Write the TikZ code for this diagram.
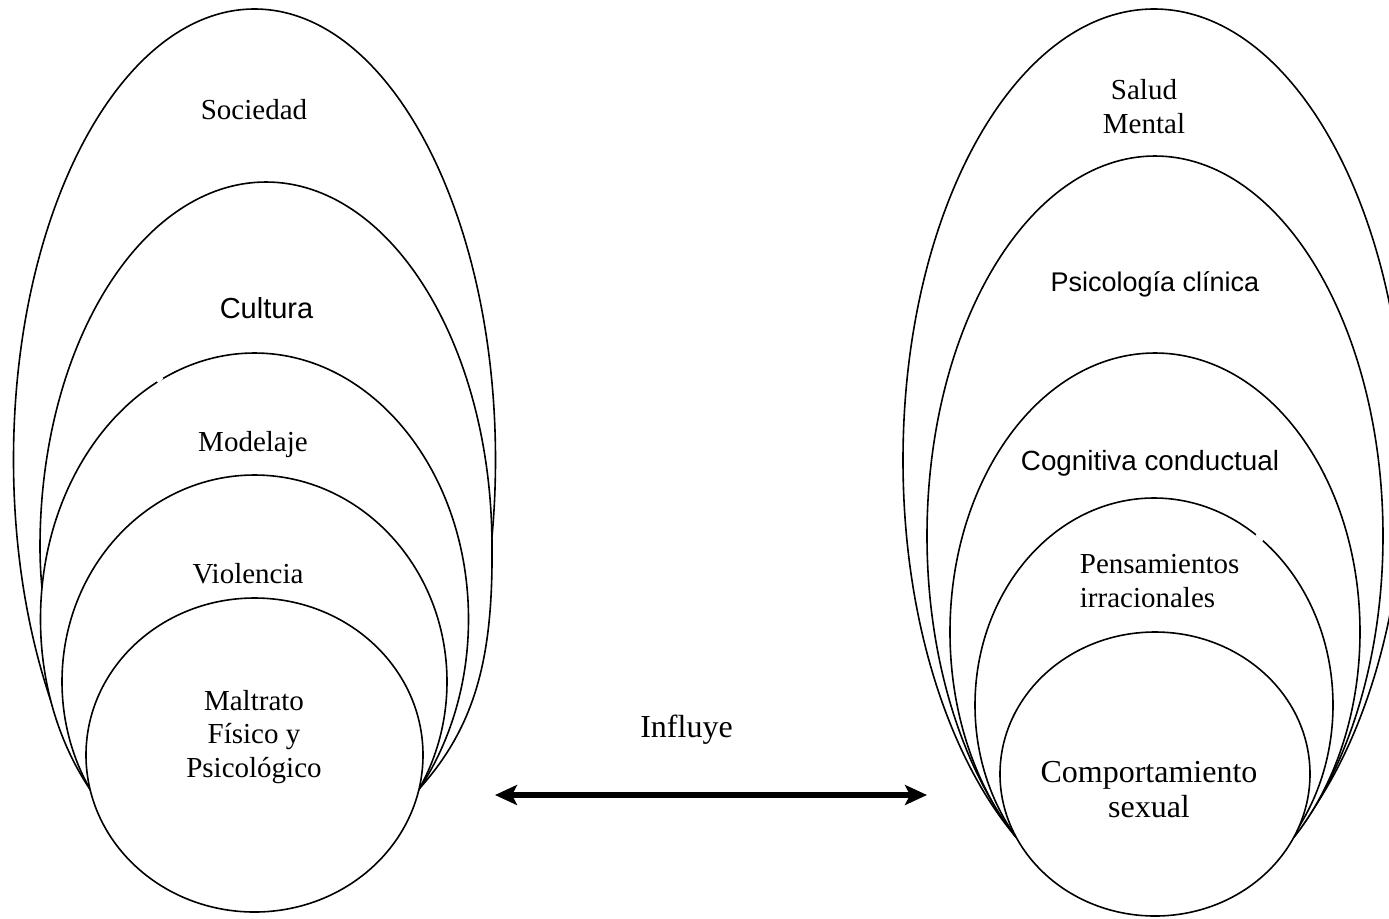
\documentclass[tikz,border=0pt]{standalone}
\usepackage{fontspec}
\setmainfont{Liberation Serif}
\newfontfamily\sansf{Liberation Sans}
\usetikzlibrary{arrows.meta}
\newcommand\stk[2][c]{\begin{tabular}[t]{@{}#1@{}}#2\end{tabular}}
\begin{document}
\begin{tikzpicture}[x=0.5pt,y=-0.5pt,
  ring/.style={draw=black, fill=white, line width=0.8pt},
  lbl/.style={inner sep=0pt, anchor=base, font=\fontsize{14.5}{16.75}\selectfont},
  big/.style={inner sep=0pt, anchor=base, font=\fontsize{16}{17.5}\selectfont},
  sanslbl/.style={inner sep=0pt, anchor=base, font=\sansf\fontsize{#1}{16.75}\selectfont},
  gapmark/.style={draw=white, line width=2pt},
  influence/.style={line width=2.6pt, {Stealth[length=11pt,width=10pt,inset=2.5pt]}-{Stealth[length=11pt,width=10pt,inset=2.5pt]}}]
\clip (0,0) rectangle (1389,918);
\fill[white] (0,0) rectangle (1389,918);
% left nested shapes (their lower parts disappear inside the inner circle)
\begin{scope}
  \clip (0,0) rectangle (700,790);
  \filldraw[ring] (254.5,459.7) ellipse [x radius=241, y radius=450.7];
  \filldraw[ring] (40,547) arc [start angle=180, end angle=360, x radius=226, y radius=365]
     .. controls (493,660) and (475,730) .. (413.5,795) -- (113,795)
     .. controls (80,760) and (40,650) .. cycle;
  \filldraw[ring] (254.5,619.1) ellipse [x radius=214, y radius=266.1];
  \draw[gapmark] (157,381.5) -- (162,377.2);
  \filldraw[ring] (254.5,681.7) ellipse [x radius=192.5, y radius=206.7];
\end{scope}
\filldraw[ring] (254.5,755) ellipse [x radius=168.5, y radius=157];
% right nested shapes
\begin{scope}
  \clip (700,0) rectangle (1389,837);
  \filldraw[ring] (1154,460.2) ellipse [x radius=251, y radius=451.2];
  \filldraw[ring] (1155,535.9) ellipse [x radius=228, y radius=379.9];
  \filldraw[ring] (1155,632) ellipse [x radius=205, y radius=279];
  \filldraw[ring] (1154,705.1) ellipse [x radius=179, y radius=207.1];
  \draw[gapmark] (1256.7,534) -- (1263.3,540);
\end{scope}
\filldraw[ring] (1155,774) ellipse [x radius=155, y radius=142];
% left labels
\node[lbl] (sociedad) at (254,119) {Sociedad};
\node[sanslbl=14.5] (cultura) at (266.5,318) {Cultura};
\node[lbl] (modelaje) at (253,451) {Modelaje};
\node[lbl] (violencia) at (248,583) {Violencia};
\node[lbl] (maltrato) at (254,710) {\stk{Maltrato\\Físico y\\Psicológico}};
% right labels
\node[lbl, font=\fontsize{14.5}{17}\selectfont] (salud) at (1144,99.5) {\stk{Salud\\Mental}};
\node[sanslbl=13.5] (psico) at (1155,291) {Psicología clínica};
\node[sanslbl=13.9] (cognitiva) at (1150,470) {Cognitiva conductual};
\node[lbl, anchor=base west] (pensamientos) at (1079.5,573.5) {\stk[l]{Pensamientos\\irracionales}};
\node[big] (comportamiento) at (1149,782) {\stk{Comportamiento\\sexual}};
% connector
\node[big] (influye) at (686.5,737) {Influye};
\coordinate (aL) at (495,795);
\coordinate (aR) at (927,795);
\draw[influence] (aL) -- (aR);
\end{tikzpicture}
\end{document}
